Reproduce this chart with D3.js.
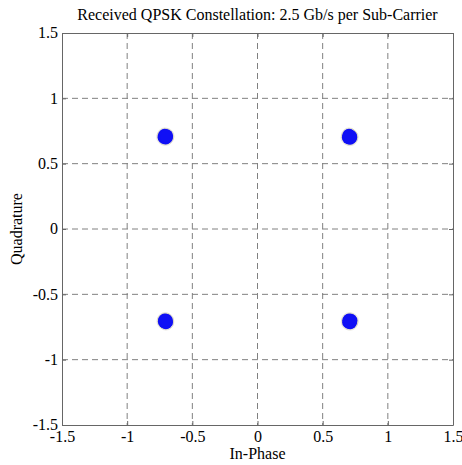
<!DOCTYPE html>
<html><head><meta charset="utf-8">
<script src="https://cdn.jsdelivr.net/npm/d3@7"></script>
<style>body{margin:0;background:#fff}svg{display:block}text{font-family:"Liberation Serif","Times New Roman",serif}</style>
</head><body><svg id="c" width="462" height="465"></svg>
<script>
const title = "Received QPSK Constellation: 2.5 Gb/s per Sub-Carrier";
const xLabel = "In-Phase";
const yLabel = "Quadrature";
const tickValues = [-1.5, -1, -0.5, 0, 0.5, 1, 1.5];
const tickLabels = ["-1.5", "-1", "-0.5", "0", "0.5", "1", "1.5"];
// received samples (in-phase, quadrature)
const sampleI = [0.705, 0.715, 0.698, 0.710, 0.702, 0.712,
                 -0.708, -0.700, -0.716, -0.705, -0.712, -0.698,
                 -0.707, -0.699, -0.714, -0.703, -0.711, -0.701,
                 0.708, 0.700, 0.716, 0.711, 0.703, 0.713];
const sampleQ = [0.712, 0.704, 0.700, 0.695, 0.716, 0.708,
                 0.711, 0.704, 0.702, 0.697, 0.716, 0.712,
                 -0.703, -0.711, -0.708, -0.716, -0.698, -0.700,
                 -0.705, -0.713, -0.700, -0.717, -0.698, -0.709];

const svg = d3.select("#c");
const m = {l: 62, r: 453, t: 33, b: 425};
const x = d3.scaleLinear().domain([-1.5, 1.5]).range([m.l, m.r]);
const y = d3.scaleLinear().domain([-1.5, 1.5]).range([m.b, m.t]);

// grid
const g = svg.append("g");
tickValues.slice(1, -1).forEach(v => {
  g.append("line").attr("x1", x(v)).attr("x2", x(v)).attr("y1", m.t).attr("y2", m.b)
    .attr("stroke", "#808080").attr("stroke-dasharray", "6,4").attr("stroke-width", 1);
  g.append("line").attr("y1", y(v)).attr("y2", y(v)).attr("x1", m.l).attr("x2", m.r)
    .attr("stroke", "#808080").attr("stroke-dasharray", "6,4").attr("stroke-width", 1);
});

// axes
const fmt = (d) => tickLabels[tickValues.indexOf(d)];
const xb = svg.append("g").attr("transform", `translate(0,${m.b})`)
  .call(d3.axisBottom(x).tickValues(tickValues).tickFormat(fmt).tickSizeInner(-4).tickSizeOuter(0).tickPadding(7));
const xt = svg.append("g").attr("transform", `translate(0,${m.t})`)
  .call(d3.axisTop(x).tickValues(tickValues).tickFormat("").tickSizeInner(-4).tickSizeOuter(0));
const yl = svg.append("g").attr("transform", `translate(${m.l},0)`)
  .call(d3.axisLeft(y).tickValues(tickValues).tickFormat(fmt).tickSizeInner(-4).tickSizeOuter(0).tickPadding(4));
const yr = svg.append("g").attr("transform", `translate(${m.r},0)`)
  .call(d3.axisRight(y).tickValues(tickValues).tickFormat("").tickSizeInner(-4).tickSizeOuter(0));
[xb, xt, yl, yr].forEach(a => {
  a.select(".domain").attr("stroke", "#666");
  a.selectAll(".tick line").attr("stroke", "#666");
  a.selectAll("text").attr("font-size", 16).attr("fill", "#000")
    .attr("font-family", "Liberation Serif");
});
xb.selectAll("text").attr("dy", "0.6em");
yl.selectAll("text").attr("dy", "0.3em");

// points
const pts = sampleI.map((v, i) => [v, sampleQ[i]]);
svg.append("g").selectAll("circle.h").data(pts).join("circle")
  .attr("cx", d => x(d[0])).attr("cy", d => y(d[1])).attr("r", 7.5)
  .attr("fill", "none").attr("stroke", "#c8c4b0").attr("stroke-width", 0.8).attr("opacity", 0.5);
svg.append("g").selectAll("circle.p").data(pts).join("circle")
  .attr("cx", d => x(d[0])).attr("cy", d => y(d[1])).attr("r", 6.6)
  .attr("fill", "#1010f5");

// labels
svg.append("text").attr("x", (m.l + m.r) / 2).attr("y", 20).attr("text-anchor", "middle")
  .attr("font-size", 16).text(title);
svg.append("text").attr("x", (m.l + m.r) / 2).attr("y", 459).attr("text-anchor", "middle")
  .attr("font-size", 16).text(xLabel);
svg.append("text").attr("transform", `translate(22,${(m.t + m.b) / 2}) rotate(-90)`)
  .attr("text-anchor", "middle").attr("font-size", 16).text(yLabel);
</script></body></html>
